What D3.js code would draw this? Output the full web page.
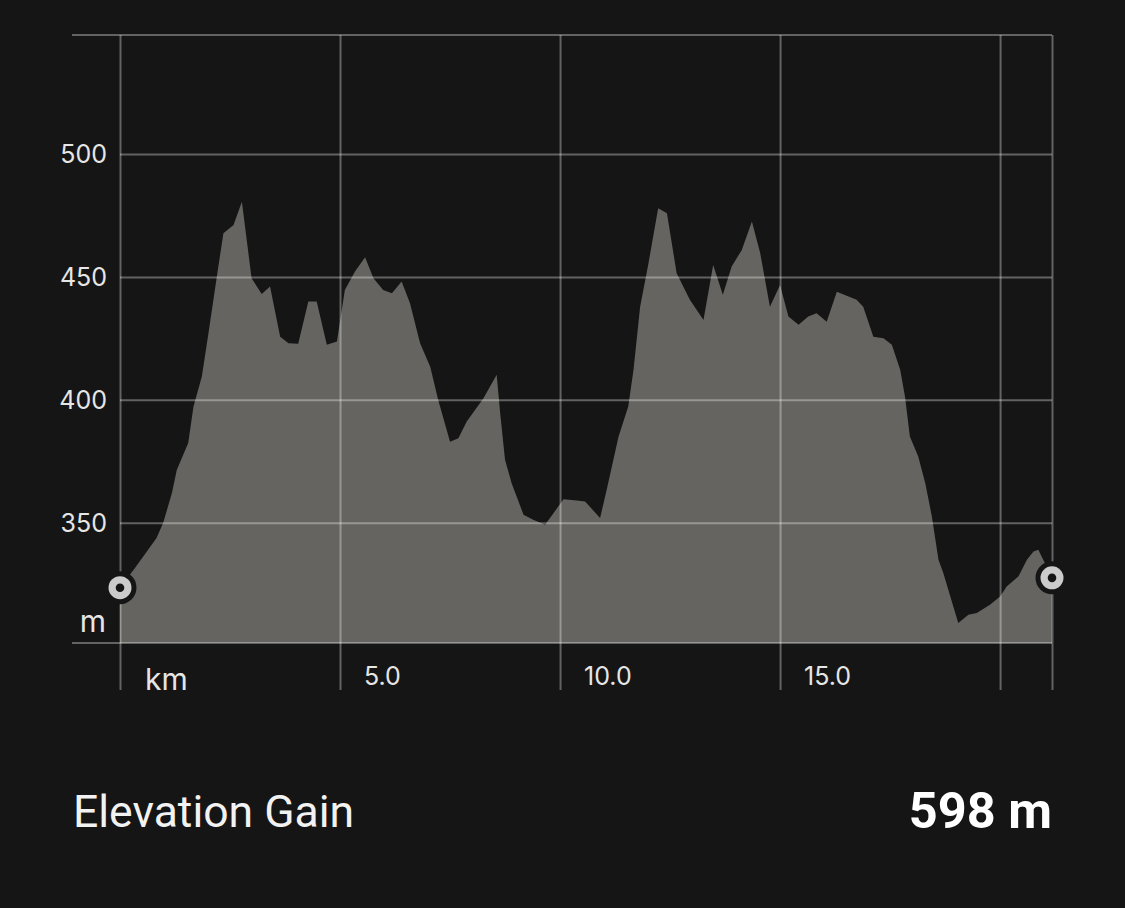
<!DOCTYPE html>
<html>
<head>
<meta charset="utf-8">
<script src="https://cdn.jsdelivr.net/npm/d3@7"></script>
<style>
  html, body { margin: 0; padding: 0; background: #151515; }
  svg { display: block; }
</style>
</head>
<body>
<svg id="chart" width="1125" height="908"></svg>
<script>
// ---- data ----
const distanceKm = [0, 0.34, 0.83, 0.98, 1.18, 1.29, 1.55, 1.67, 1.86, 2.01, 2.20, 2.35, 2.58, 2.77, 2.99, 3.22, 3.41, 3.64, 3.83, 4.05,
  4.28, 4.47, 4.70, 4.93, 5.11, 5.34, 5.57, 5.76, 5.98, 6.18, 6.40, 6.59, 6.82, 7.05, 7.23, 7.50, 7.69, 7.88, 8.26, 8.56,
  8.64, 8.75, 8.90, 9.17, 9.39, 9.66, 9.85, 10.08, 10.38, 10.57, 10.91, 11.06, 11.33, 11.55, 11.67, 11.82, 12.01, 12.23, 12.43, 12.54,
  12.65, 12.95, 13.26, 13.48, 13.70, 13.90, 14.13, 14.36, 14.55, 14.77, 15.00, 15.19, 15.42, 15.64, 15.83, 16.06, 16.29, 16.74, 16.89, 17.12,
  17.35, 17.54, 17.73, 17.84, 17.95, 18.14, 18.30, 18.45, 18.60, 18.71, 19.05, 19.28, 19.47, 19.77, 20.00, 20.15, 20.42, 20.61, 20.76, 20.87, 21.18];
const elevationM = [323.6, 331.6, 343.8, 349.9, 362.1, 371.5, 382.4, 397.3, 409.5, 427.1, 450.1, 467.8, 471.1, 480.6, 449.5, 443.1, 446.1, 425.7, 423.0, 422.8,
  440.0, 440.0, 422.4, 423.7, 444.7, 452.2, 458.0, 449.5, 444.7, 443.4, 448.1, 439.3, 423.0, 413.5, 400.0, 383.0, 384.4, 391.2, 400.7, 410.2,
  394.6, 375.6, 366.1, 353.3, 351.2, 349.2, 353.9, 359.6, 359.1, 358.7, 351.9, 363.4, 385.1, 397.3, 412.2, 437.9, 455.6, 477.9, 475.9, 463.7,
  451.5, 440.7, 432.5, 454.9, 442.7, 454.2, 461.0, 472.5, 459.6, 437.9, 446.7, 433.9, 430.5, 433.9, 435.2, 431.8, 444.0, 440.7, 437.9, 425.7,
  425.1, 422.4, 412.2, 401.3, 385.1, 377.0, 366.1, 352.6, 335.0, 329.6, 309.2, 312.6, 313.3, 316.7, 320.0, 324.1, 328.2, 335.0, 338.3, 339.0, 327.6];
const yTicks = [350, 400, 450, 500];
const yUnitLabel = "m";
const xGridKm = [0, 5, 10, 15, 20];
const xTickLabels = ["km", "5.0", "10.0", "15.0", ""];
const totalKm = 21.18;
const yExtent = [301.1, 548.4];
const summaryLabel = "Elevation Gain";
const summaryValue = "598 m";

(function () {
// ---- layout ----
const svg = d3.select("#chart");
const W = 1125, H = 908;
const pL = 120, pR = 1052, pT = 35, pB = 643, frameLeft = 72, vLineBottom = 690;
const BG = "#151515", AREA = "#656460", GRID = "rgba(255,255,255,0.33)", TXT = "#e6e6e6";
const FONT = "Inter, 'Open Sans', sans-serif";

svg.append("rect").attr("width", W).attr("height", H).attr("fill", BG);

const x = d3.scaleLinear().domain([0, totalKm]).range([pL, pR]);
const y = d3.scaleLinear().domain(yExtent).range([pB, pT]);

const data = distanceKm.map((d, i) => ({ km: d, m: elevationM[i] }));

// area
const area = d3.area().x(d => x(d.km)).y0(pB).y1(d => y(d.m)).curve(d3.curveLinear);
svg.append("path").datum(data).attr("d", area).attr("fill", AREA);

// horizontal grid via axis
const yAxis = d3.axisLeft(y).tickValues(yTicks).tickSize(-(pR - pL)).tickPadding(13).tickFormat(d3.format("d"));
const gy = svg.append("g").attr("transform", `translate(${pL},0)`).call(yAxis);
gy.select(".domain").remove();
gy.selectAll(".tick line").attr("stroke", GRID).attr("stroke-width", 2);
gy.selectAll(".tick text").attr("fill", TXT).attr("font-family", FONT).attr("font-size", 25)
  .attr("dy", null).attr("y", 9).attr("x", -13).attr("text-anchor", "end");

// top & bottom frame lines
[pT, pB].forEach(yy => {
  svg.append("line").attr("x1", frameLeft).attr("x2", pR).attr("y1", yy).attr("y2", yy)
    .attr("stroke", GRID).attr("stroke-width", 2);
});

// vertical grid via axis
const xAxis = d3.axisBottom(x).tickValues(xGridKm.concat([totalKm])).tickSize(-(vLineBottom - pT)).tickFormat("");
const gx = svg.append("g").attr("transform", `translate(0,${vLineBottom})`).call(xAxis);
gx.select(".domain").remove();
gx.selectAll(".tick line").attr("stroke", GRID).attr("stroke-width", 2);
gx.selectAll(".tick text").remove();

// x labels
xGridKm.forEach((k, i) => {
  const lbl = xTickLabels[i];
  if (!lbl) return;
  const isUnit = lbl === "km";
  svg.append("text").attr("x", x(k) + (isUnit ? 25 : 24)).attr("y", isUnit ? 690 : 684.5)
    .attr("fill", TXT).attr("font-family", FONT).attr("font-size", isUnit ? 30 : 25).text(lbl);
});

// unit label m
svg.append("text").attr("x", 106).attr("y", 632).attr("text-anchor", "end")
  .attr("fill", TXT).attr("font-family", FONT).attr("font-size", 30).text(yUnitLabel);

// start / end markers
[data[0], data[data.length - 1]].forEach(d => {
  const g = svg.append("g").attr("transform", `translate(${x(d.km)},${y(d.m)})`);
  g.append("circle").attr("r", 16.5).attr("fill", BG);
  g.append("circle").attr("r", 11.5).attr("fill", "#cbcbcb");
  g.append("circle").attr("r", 4.3).attr("fill", BG);
});

// summary
svg.append("text").attr("x", 73).attr("y", 827).attr("fill", "#f2f2f2")
  .attr("font-family", "Roboto, sans-serif").attr("font-size", 44.5).text(summaryLabel);
svg.append("text").attr("x", 1052).attr("y", 828).attr("text-anchor", "end").attr("fill", "#ffffff")
  .attr("font-family", "Roboto, sans-serif").attr("font-weight", "bold").attr("font-size", 50.5).text(summaryValue);
})();
</script>
</body>
</html>
